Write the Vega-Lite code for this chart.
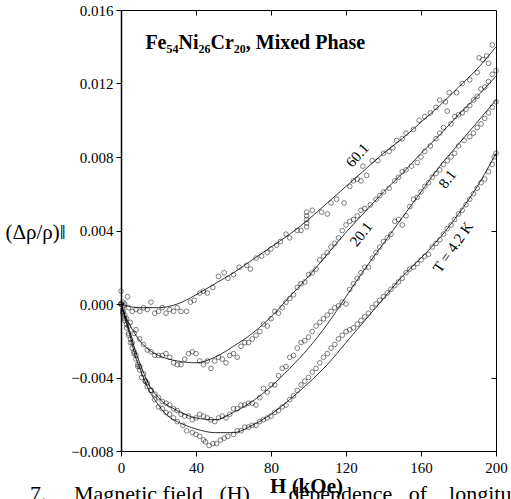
{
  "$schema": "https://vega.github.io/schema/vega-lite/v6.json",
  "width": 375,
  "height": 441,
  "autosize": {"type": "none"},
  "padding": {"left": 121, "top": 10, "right": 15, "bottom": 48},
  "background": "white",
  "title": {"text": "7.\u00a0\u00a0\u00a0\u00a0\u00a0Magnetic\u00a0field\u00a0\u00a0\u00a0(H)\u00a0\u00a0\u00a0\u00a0\u00a0\u00a0\u00a0dependence\u00a0\u00a0\u00a0of\u00a0\u00a0\u00a0\u00a0longitudinal", "orient": "bottom", "anchor": "start", "frame": "group", "dx": -91, "offset": -12, "baseline": "top", "font": "Liberation Serif", "fontSize": 22, "fontWeight": "normal", "color": "black"},
  "config": {
    "view": {"stroke": "black", "strokeWidth": 1},
    "font": "Liberation Serif",
    "style": {"guide-label": {"font": "Liberation Serif", "fill": "black"}, "guide-title": {"font": "Liberation Serif", "fill": "black"}, "group-title": {"font": "Liberation Serif"}},
    "axis": {"labelFont": "Liberation Serif", "titleFont": "Liberation Serif", "labelColor": "black", "titleColor": "black", "domainColor": "black", "tickColor": "black", "grid": false}
  },
  "datasets": {
    "fit": [
      {"H":0,"y":0,"T":"60.1"},{"H":5,"y":-0.00015,"T":"60.1"},{"H":10,"y":-0.0002,"T":"60.1"},{"H":20,"y":-0.0002,"T":"60.1"},{"H":30,"y":0.0,"T":"60.1"},{"H":40,"y":0.0005,"T":"60.1"},{"H":50,"y":0.0011,"T":"60.1"},{"H":60,"y":0.0017,"T":"60.1"},{"H":70,"y":0.0024,"T":"60.1"},{"H":80,"y":0.0031,"T":"60.1"},{"H":90,"y":0.0038,"T":"60.1"},{"H":100,"y":0.0046,"T":"60.1"},{"H":110,"y":0.0055,"T":"60.1"},{"H":120,"y":0.0064,"T":"60.1"},{"H":130,"y":0.0073,"T":"60.1"},{"H":140,"y":0.0082,"T":"60.1"},{"H":150,"y":0.0090,"T":"60.1"},{"H":160,"y":0.0099,"T":"60.1"},{"H":170,"y":0.0108,"T":"60.1"},{"H":180,"y":0.0118,"T":"60.1"},{"H":190,"y":0.0128,"T":"60.1"},{"H":200,"y":0.0140,"T":"60.1"},
      {"H":0,"y":0,"T":"20.1"},{"H":2.5,"y":-0.0007,"T":"20.1"},{"H":5,"y":-0.0012,"T":"20.1"},{"H":10,"y":-0.0020,"T":"20.1"},{"H":15,"y":-0.0025,"T":"20.1"},{"H":20,"y":-0.0028,"T":"20.1"},{"H":30,"y":-0.0031,"T":"20.1"},{"H":40,"y":-0.0032,"T":"20.1"},{"H":50,"y":-0.0029,"T":"20.1"},{"H":60,"y":-0.0023,"T":"20.1"},{"H":70,"y":-0.0016,"T":"20.1"},{"H":80,"y":-0.0007,"T":"20.1"},{"H":90,"y":0.0004,"T":"20.1"},{"H":100,"y":0.0015,"T":"20.1"},{"H":110,"y":0.0027,"T":"20.1"},{"H":120,"y":0.0039,"T":"20.1"},{"H":130,"y":0.0050,"T":"20.1"},{"H":140,"y":0.0061,"T":"20.1"},{"H":150,"y":0.0071,"T":"20.1"},{"H":160,"y":0.0082,"T":"20.1"},{"H":170,"y":0.0092,"T":"20.1"},{"H":180,"y":0.0103,"T":"20.1"},{"H":190,"y":0.0113,"T":"20.1"},{"H":200,"y":0.0124,"T":"20.1"},
      {"H":0,"y":0,"T":"8.1"},{"H":2.5,"y":-0.0008,"T":"8.1"},{"H":5,"y":-0.0016,"T":"8.1"},{"H":7.5,"y":-0.0025,"T":"8.1"},{"H":10,"y":-0.0032,"T":"8.1"},{"H":15,"y":-0.0044,"T":"8.1"},{"H":20,"y":-0.0051,"T":"8.1"},{"H":30,"y":-0.0058,"T":"8.1"},{"H":40,"y":-0.0062,"T":"8.1"},{"H":50,"y":-0.0063,"T":"8.1"},{"H":60,"y":-0.0059,"T":"8.1"},{"H":70,"y":-0.0053,"T":"8.1"},{"H":80,"y":-0.0045,"T":"8.1"},{"H":90,"y":-0.0035,"T":"8.1"},{"H":100,"y":-0.0024,"T":"8.1"},{"H":110,"y":-0.0011,"T":"8.1"},{"H":120,"y":0.0004,"T":"8.1"},{"H":130,"y":0.0019,"T":"8.1"},{"H":140,"y":0.0033,"T":"8.1"},{"H":150,"y":0.0047,"T":"8.1"},{"H":160,"y":0.0061,"T":"8.1"},{"H":170,"y":0.0075,"T":"8.1"},{"H":180,"y":0.0087,"T":"8.1"},{"H":190,"y":0.0099,"T":"8.1"},{"H":200,"y":0.0111,"T":"8.1"},
      {"H":0,"y":0,"T":"4.2"},{"H":2.5,"y":-0.0009,"T":"4.2"},{"H":5,"y":-0.0018,"T":"4.2"},{"H":7.5,"y":-0.0028,"T":"4.2"},{"H":10,"y":-0.0035,"T":"4.2"},{"H":15,"y":-0.0047,"T":"4.2"},{"H":20,"y":-0.0055,"T":"4.2"},{"H":25,"y":-0.0061,"T":"4.2"},{"H":30,"y":-0.0064,"T":"4.2"},{"H":40,"y":-0.0068,"T":"4.2"},{"H":50,"y":-0.0070,"T":"4.2"},{"H":60,"y":-0.0070,"T":"4.2"},{"H":70,"y":-0.0066,"T":"4.2"},{"H":80,"y":-0.0060,"T":"4.2"},{"H":90,"y":-0.0052,"T":"4.2"},{"H":100,"y":-0.0043,"T":"4.2"},{"H":110,"y":-0.0033,"T":"4.2"},{"H":120,"y":-0.0021,"T":"4.2"},{"H":130,"y":-0.0009,"T":"4.2"},{"H":140,"y":0.0003,"T":"4.2"},{"H":150,"y":0.0015,"T":"4.2"},{"H":160,"y":0.0025,"T":"4.2"},{"H":170,"y":0.0036,"T":"4.2"},{"H":180,"y":0.0049,"T":"4.2"},{"H":190,"y":0.0064,"T":"4.2"},{"H":200,"y":0.0082,"T":"4.2"}
    ],
    "pts": [
      {"H":0,"y":0.0007,"T":"60.1"},{"H":1,"y":0.0001,"T":"60.1"},{"H":1.5,"y":-0.0001,"T":"60.1"},{"H":2,"y":0.0,"T":"60.1"},{"H":3.5,"y":0.0004,"T":"60.1"},{"H":4,"y":-0.0002,"T":"60.1"},{"H":6,"y":-0.0004,"T":"60.1"},{"H":8,"y":-0.0003,"T":"60.1"},{"H":10,"y":-0.0004,"T":"60.1"},{"H":12,"y":-0.0002,"T":"60.1"},{"H":14,"y":-0.0003,"T":"60.1"},{"H":16,"y":0.0001,"T":"60.1"},{"H":18,"y":-0.0005,"T":"60.1"},{"H":20,"y":-0.0004,"T":"60.1"},{"H":22,"y":-0.0002,"T":"60.1"},{"H":24,"y":-0.0005,"T":"60.1"},{"H":26,"y":-0.0003,"T":"60.1"},{"H":28,"y":-0.0004,"T":"60.1"},{"H":30,"y":-0.0002,"T":"60.1"},{"H":32,"y":-0.0004,"T":"60.1"},{"H":35,"y":-0.0004,"T":"60.1"},{"H":37,"y":0.0001,"T":"60.1"},{"H":39,"y":0.0002,"T":"60.1"},{"H":42,"y":0.0006,"T":"60.1"},{"H":44,"y":0.0007,"T":"60.1"},{"H":46,"y":0.0006,"T":"60.1"},{"H":49,"y":0.0009,"T":"60.1"},{"H":52,"y":0.0015,"T":"60.1"},{"H":55,"y":0.0017,"T":"60.1"},{"H":57,"y":0.0014,"T":"60.1"},{"H":60,"y":0.0016,"T":"60.1"},{"H":63,"y":0.0020,"T":"60.1"},{"H":67,"y":0.0021,"T":"60.1"},{"H":69,"y":0.0019,"T":"60.1"},{"H":72,"y":0.0025,"T":"60.1"},{"H":75,"y":0.0026,"T":"60.1"},{"H":78,"y":0.0028,"T":"60.1"},{"H":80,"y":0.0030,"T":"60.1"},{"H":83,"y":0.0032,"T":"60.1"},{"H":85,"y":0.0034,"T":"60.1"},{"H":88,"y":0.0038,"T":"60.1"},{"H":90,"y":0.0036,"T":"60.1"},{"H":94,"y":0.0040,"T":"60.1"},{"H":96,"y":0.0040,"T":"60.1"},{"H":99,"y":0.0042,"T":"60.1"},{"H":99,"y":0.0044,"T":"60.1"},{"H":99,"y":0.0046,"T":"60.1"},{"H":99,"y":0.0048,"T":"60.1"},{"H":99,"y":0.0050,"T":"60.1"},{"H":102,"y":0.0051,"T":"60.1"},{"H":107,"y":0.0050,"T":"60.1"},{"H":110,"y":0.0049,"T":"60.1"},{"H":112,"y":0.0055,"T":"60.1"},{"H":115,"y":0.0057,"T":"60.1"},{"H":119,"y":0.0055,"T":"60.1"},{"H":122,"y":0.0064,"T":"60.1"},{"H":124,"y":0.0067,"T":"60.1"},{"H":126,"y":0.0068,"T":"60.1"},{"H":128,"y":0.0067,"T":"60.1"},{"H":129,"y":0.0075,"T":"60.1"},{"H":131,"y":0.0070,"T":"60.1"},{"H":134,"y":0.0078,"T":"60.1"},{"H":137,"y":0.0078,"T":"60.1"},{"H":140,"y":0.0082,"T":"60.1"},{"H":143,"y":0.0083,"T":"60.1"},{"H":145,"y":0.0085,"T":"60.1"},{"H":147,"y":0.0089,"T":"60.1"},{"H":150,"y":0.0090,"T":"60.1"},{"H":152,"y":0.0093,"T":"60.1"},{"H":156,"y":0.0095,"T":"60.1"},{"H":159,"y":0.0100,"T":"60.1"},{"H":162,"y":0.0102,"T":"60.1"},{"H":165,"y":0.0104,"T":"60.1"},{"H":168,"y":0.0107,"T":"60.1"},{"H":170,"y":0.0111,"T":"60.1"},{"H":173,"y":0.0110,"T":"60.1"},{"H":175,"y":0.0115,"T":"60.1"},{"H":179,"y":0.0115,"T":"60.1"},{"H":182,"y":0.0120,"T":"60.1"},{"H":186,"y":0.0122,"T":"60.1"},{"H":190,"y":0.0126,"T":"60.1"},{"H":191,"y":0.0134,"T":"60.1"},{"H":193,"y":0.0133,"T":"60.1"},{"H":195,"y":0.0135,"T":"60.1"},{"H":196,"y":0.0131,"T":"60.1"},{"H":198,"y":0.0141,"T":"60.1"},
      {"H":0,"y":0.0,"T":"20.1"},{"H":1,"y":-0.0003,"T":"20.1"},{"H":2,"y":-0.0006,"T":"20.1"},{"H":3,"y":-0.0008,"T":"20.1"},{"H":4,"y":-0.0012,"T":"20.1"},{"H":5,"y":-0.0010,"T":"20.1"},{"H":7,"y":-0.0016,"T":"20.1"},{"H":8,"y":-0.0014,"T":"20.1"},{"H":10,"y":-0.0019,"T":"20.1"},{"H":12,"y":-0.0022,"T":"20.1"},{"H":14,"y":-0.0025,"T":"20.1"},{"H":16,"y":-0.0026,"T":"20.1"},{"H":18,"y":-0.0028,"T":"20.1"},{"H":20,"y":-0.0028,"T":"20.1"},{"H":22,"y":-0.0028,"T":"20.1"},{"H":24,"y":-0.0027,"T":"20.1"},{"H":26,"y":-0.0029,"T":"20.1"},{"H":28,"y":-0.0032,"T":"20.1"},{"H":30,"y":-0.0033,"T":"20.1"},{"H":32,"y":-0.0033,"T":"20.1"},{"H":34,"y":-0.0030,"T":"20.1"},{"H":36,"y":-0.0027,"T":"20.1"},{"H":38,"y":-0.0026,"T":"20.1"},{"H":40,"y":-0.0027,"T":"20.1"},{"H":42,"y":-0.0031,"T":"20.1"},{"H":44,"y":-0.0033,"T":"20.1"},{"H":46,"y":-0.0031,"T":"20.1"},{"H":48,"y":-0.0035,"T":"20.1"},{"H":50,"y":-0.0031,"T":"20.1"},{"H":52,"y":-0.0029,"T":"20.1"},{"H":54,"y":-0.0030,"T":"20.1"},{"H":56,"y":-0.0032,"T":"20.1"},{"H":58,"y":-0.0028,"T":"20.1"},{"H":60,"y":-0.0027,"T":"20.1"},{"H":62,"y":-0.0029,"T":"20.1"},{"H":64,"y":-0.0023,"T":"20.1"},{"H":66,"y":-0.0021,"T":"20.1"},{"H":68,"y":-0.0021,"T":"20.1"},{"H":70,"y":-0.0019,"T":"20.1"},{"H":72,"y":-0.0017,"T":"20.1"},{"H":74,"y":-0.0015,"T":"20.1"},{"H":76,"y":-0.0011,"T":"20.1"},{"H":78,"y":-0.0012,"T":"20.1"},{"H":80,"y":-0.0008,"T":"20.1"},{"H":82,"y":-0.0004,"T":"20.1"},{"H":84,"y":-0.0005,"T":"20.1"},{"H":86,"y":-0.0002,"T":"20.1"},{"H":88,"y":0.0001,"T":"20.1"},{"H":90,"y":0.0003,"T":"20.1"},{"H":92,"y":0.0005,"T":"20.1"},{"H":94,"y":0.0009,"T":"20.1"},{"H":96,"y":0.0011,"T":"20.1"},{"H":98,"y":0.0012,"T":"20.1"},{"H":100,"y":0.0016,"T":"20.1"},{"H":102,"y":0.0017,"T":"20.1"},{"H":104,"y":0.0019,"T":"20.1"},{"H":106,"y":0.0024,"T":"20.1"},{"H":108,"y":0.0026,"T":"20.1"},{"H":110,"y":0.0028,"T":"20.1"},{"H":112,"y":0.0031,"T":"20.1"},{"H":114,"y":0.0033,"T":"20.1"},{"H":116,"y":0.0036,"T":"20.1"},{"H":118,"y":0.0040,"T":"20.1"},{"H":120,"y":0.0043,"T":"20.1"},{"H":122,"y":0.0045,"T":"20.1"},{"H":124,"y":0.0046,"T":"20.1"},{"H":126,"y":0.0048,"T":"20.1"},{"H":128,"y":0.0051,"T":"20.1"},{"H":130,"y":0.0052,"T":"20.1"},{"H":133,"y":0.0054,"T":"20.1"},{"H":136,"y":0.0057,"T":"20.1"},{"H":138,"y":0.0059,"T":"20.1"},{"H":140,"y":0.0061,"T":"20.1"},{"H":143,"y":0.0063,"T":"20.1"},{"H":146,"y":0.0067,"T":"20.1"},{"H":148,"y":0.0069,"T":"20.1"},{"H":150,"y":0.0072,"T":"20.1"},{"H":152,"y":0.0073,"T":"20.1"},{"H":155,"y":0.0075,"T":"20.1"},{"H":158,"y":0.0077,"T":"20.1"},{"H":160,"y":0.0080,"T":"20.1"},{"H":162,"y":0.0083,"T":"20.1"},{"H":165,"y":0.0086,"T":"20.1"},{"H":168,"y":0.0090,"T":"20.1"},{"H":170,"y":0.0093,"T":"20.1"},{"H":172,"y":0.0096,"T":"20.1"},{"H":174,"y":0.0105,"T":"20.1"},{"H":176,"y":0.0098,"T":"20.1"},{"H":178,"y":0.0102,"T":"20.1"},{"H":180,"y":0.0103,"T":"20.1"},{"H":182,"y":0.0104,"T":"20.1"},{"H":184,"y":0.0106,"T":"20.1"},{"H":186,"y":0.0108,"T":"20.1"},{"H":188,"y":0.0111,"T":"20.1"},{"H":190,"y":0.0113,"T":"20.1"},{"H":192,"y":0.0117,"T":"20.1"},{"H":194,"y":0.0118,"T":"20.1"},{"H":196,"y":0.0121,"T":"20.1"},{"H":198,"y":0.0125,"T":"20.1"},{"H":200,"y":0.0127,"T":"20.1"},
      {"H":0,"y":0.0,"T":"8.1"},{"H":1,"y":-0.0004,"T":"8.1"},{"H":2,"y":-0.0008,"T":"8.1"},{"H":3,"y":-0.0011,"T":"8.1"},{"H":4,"y":-0.0016,"T":"8.1"},{"H":5,"y":-0.0019,"T":"8.1"},{"H":6,"y":-0.0021,"T":"8.1"},{"H":7,"y":-0.0026,"T":"8.1"},{"H":8,"y":-0.0028,"T":"8.1"},{"H":9,"y":-0.0033,"T":"8.1"},{"H":10,"y":-0.0034,"T":"8.1"},{"H":12,"y":-0.0038,"T":"8.1"},{"H":13,"y":-0.0042,"T":"8.1"},{"H":14,"y":-0.0043,"T":"8.1"},{"H":16,"y":-0.0047,"T":"8.1"},{"H":18,"y":-0.0049,"T":"8.1"},{"H":20,"y":-0.0051,"T":"8.1"},{"H":22,"y":-0.0053,"T":"8.1"},{"H":24,"y":-0.0054,"T":"8.1"},{"H":26,"y":-0.0055,"T":"8.1"},{"H":28,"y":-0.0057,"T":"8.1"},{"H":30,"y":-0.0058,"T":"8.1"},{"H":32,"y":-0.0060,"T":"8.1"},{"H":34,"y":-0.0061,"T":"8.1"},{"H":36,"y":-0.0061,"T":"8.1"},{"H":38,"y":-0.0063,"T":"8.1"},{"H":40,"y":-0.0062,"T":"8.1"},{"H":42,"y":-0.0060,"T":"8.1"},{"H":44,"y":-0.0061,"T":"8.1"},{"H":46,"y":-0.0062,"T":"8.1"},{"H":48,"y":-0.0063,"T":"8.1"},{"H":50,"y":-0.0064,"T":"8.1"},{"H":52,"y":-0.0062,"T":"8.1"},{"H":54,"y":-0.0061,"T":"8.1"},{"H":56,"y":-0.0062,"T":"8.1"},{"H":58,"y":-0.0060,"T":"8.1"},{"H":60,"y":-0.0057,"T":"8.1"},{"H":62,"y":-0.0057,"T":"8.1"},{"H":64,"y":-0.0055,"T":"8.1"},{"H":66,"y":-0.0055,"T":"8.1"},{"H":68,"y":-0.0054,"T":"8.1"},{"H":70,"y":-0.0054,"T":"8.1"},{"H":72,"y":-0.0055,"T":"8.1"},{"H":74,"y":-0.0051,"T":"8.1"},{"H":76,"y":-0.0046,"T":"8.1"},{"H":78,"y":-0.0048,"T":"8.1"},{"H":80,"y":-0.0044,"T":"8.1"},{"H":82,"y":-0.0044,"T":"8.1"},{"H":84,"y":-0.0039,"T":"8.1"},{"H":86,"y":-0.0035,"T":"8.1"},{"H":88,"y":-0.0034,"T":"8.1"},{"H":90,"y":-0.0029,"T":"8.1"},{"H":92,"y":-0.0028,"T":"8.1"},{"H":94,"y":-0.0024,"T":"8.1"},{"H":96,"y":-0.0021,"T":"8.1"},{"H":98,"y":-0.0020,"T":"8.1"},{"H":100,"y":-0.0018,"T":"8.1"},{"H":102,"y":-0.0015,"T":"8.1"},{"H":104,"y":-0.0012,"T":"8.1"},{"H":106,"y":-0.0010,"T":"8.1"},{"H":108,"y":-0.0008,"T":"8.1"},{"H":110,"y":-0.0006,"T":"8.1"},{"H":112,"y":-0.0004,"T":"8.1"},{"H":114,"y":-0.0002,"T":"8.1"},{"H":116,"y":-0.0001,"T":"8.1"},{"H":118,"y":0.0001,"T":"8.1"},{"H":120,"y":0.0000,"T":"8.1"},{"H":122,"y":0.0008,"T":"8.1"},{"H":124,"y":0.0011,"T":"8.1"},{"H":126,"y":0.0014,"T":"8.1"},{"H":128,"y":0.0017,"T":"8.1"},{"H":130,"y":0.0020,"T":"8.1"},{"H":132,"y":0.0020,"T":"8.1"},{"H":134,"y":0.0025,"T":"8.1"},{"H":136,"y":0.0028,"T":"8.1"},{"H":138,"y":0.0031,"T":"8.1"},{"H":140,"y":0.0034,"T":"8.1"},{"H":142,"y":0.0036,"T":"8.1"},{"H":144,"y":0.0038,"T":"8.1"},{"H":146,"y":0.0045,"T":"8.1"},{"H":148,"y":0.0046,"T":"8.1"},{"H":150,"y":0.0043,"T":"8.1"},{"H":152,"y":0.0048,"T":"8.1"},{"H":154,"y":0.0053,"T":"8.1"},{"H":156,"y":0.0057,"T":"8.1"},{"H":158,"y":0.0058,"T":"8.1"},{"H":160,"y":0.0061,"T":"8.1"},{"H":162,"y":0.0064,"T":"8.1"},{"H":164,"y":0.0066,"T":"8.1"},{"H":166,"y":0.0069,"T":"8.1"},{"H":168,"y":0.0071,"T":"8.1"},{"H":170,"y":0.0073,"T":"8.1"},{"H":172,"y":0.0076,"T":"8.1"},{"H":174,"y":0.0078,"T":"8.1"},{"H":176,"y":0.0080,"T":"8.1"},{"H":178,"y":0.0082,"T":"8.1"},{"H":180,"y":0.0086,"T":"8.1"},{"H":183,"y":0.0089,"T":"8.1"},{"H":186,"y":0.0091,"T":"8.1"},{"H":188,"y":0.0093,"T":"8.1"},{"H":190,"y":0.0096,"T":"8.1"},{"H":192,"y":0.0098,"T":"8.1"},{"H":194,"y":0.0101,"T":"8.1"},{"H":196,"y":0.0104,"T":"8.1"},{"H":198,"y":0.0107,"T":"8.1"},{"H":200,"y":0.0110,"T":"8.1"},
      {"H":0,"y":0.0,"T":"4.2"},{"H":1,"y":-0.0005,"T":"4.2"},{"H":2,"y":-0.0009,"T":"4.2"},{"H":3,"y":-0.0013,"T":"4.2"},{"H":4,"y":-0.0017,"T":"4.2"},{"H":5,"y":-0.0021,"T":"4.2"},{"H":6,"y":-0.0024,"T":"4.2"},{"H":7,"y":-0.0027,"T":"4.2"},{"H":8,"y":-0.0030,"T":"4.2"},{"H":9,"y":-0.0034,"T":"4.2"},{"H":10,"y":-0.0036,"T":"4.2"},{"H":11,"y":-0.0040,"T":"4.2"},{"H":13,"y":-0.0042,"T":"4.2"},{"H":14,"y":-0.0045,"T":"4.2"},{"H":16,"y":-0.0047,"T":"4.2"},{"H":18,"y":-0.0052,"T":"4.2"},{"H":20,"y":-0.0056,"T":"4.2"},{"H":22,"y":-0.0057,"T":"4.2"},{"H":24,"y":-0.0059,"T":"4.2"},{"H":26,"y":-0.0060,"T":"4.2"},{"H":28,"y":-0.0062,"T":"4.2"},{"H":30,"y":-0.0064,"T":"4.2"},{"H":33,"y":-0.0066,"T":"4.2"},{"H":35,"y":-0.0069,"T":"4.2"},{"H":38,"y":-0.0070,"T":"4.2"},{"H":40,"y":-0.0071,"T":"4.2"},{"H":42,"y":-0.0072,"T":"4.2"},{"H":44,"y":-0.0074,"T":"4.2"},{"H":45,"y":-0.0075,"T":"4.2"},{"H":47,"y":-0.0077,"T":"4.2"},{"H":49,"y":-0.0076,"T":"4.2"},{"H":51,"y":-0.0076,"T":"4.2"},{"H":53,"y":-0.0074,"T":"4.2"},{"H":55,"y":-0.0073,"T":"4.2"},{"H":57,"y":-0.0072,"T":"4.2"},{"H":60,"y":-0.0071,"T":"4.2"},{"H":62,"y":-0.0069,"T":"4.2"},{"H":64,"y":-0.0069,"T":"4.2"},{"H":66,"y":-0.0067,"T":"4.2"},{"H":68,"y":-0.0067,"T":"4.2"},{"H":70,"y":-0.0066,"T":"4.2"},{"H":72,"y":-0.0066,"T":"4.2"},{"H":74,"y":-0.0064,"T":"4.2"},{"H":76,"y":-0.0063,"T":"4.2"},{"H":78,"y":-0.0062,"T":"4.2"},{"H":80,"y":-0.0061,"T":"4.2"},{"H":82,"y":-0.0059,"T":"4.2"},{"H":84,"y":-0.0058,"T":"4.2"},{"H":86,"y":-0.0056,"T":"4.2"},{"H":88,"y":-0.0055,"T":"4.2"},{"H":90,"y":-0.0052,"T":"4.2"},{"H":92,"y":-0.0050,"T":"4.2"},{"H":94,"y":-0.0047,"T":"4.2"},{"H":96,"y":-0.0044,"T":"4.2"},{"H":98,"y":-0.0042,"T":"4.2"},{"H":100,"y":-0.0040,"T":"4.2"},{"H":102,"y":-0.0037,"T":"4.2"},{"H":104,"y":-0.0035,"T":"4.2"},{"H":106,"y":-0.0032,"T":"4.2"},{"H":108,"y":-0.0029,"T":"4.2"},{"H":110,"y":-0.0027,"T":"4.2"},{"H":112,"y":-0.0024,"T":"4.2"},{"H":114,"y":-0.0022,"T":"4.2"},{"H":116,"y":-0.0019,"T":"4.2"},{"H":118,"y":-0.0017,"T":"4.2"},{"H":120,"y":-0.0015,"T":"4.2"},{"H":122,"y":-0.0014,"T":"4.2"},{"H":124,"y":-0.0013,"T":"4.2"},{"H":126,"y":-0.0011,"T":"4.2"},{"H":128,"y":-0.0009,"T":"4.2"},{"H":130,"y":-0.0007,"T":"4.2"},{"H":132,"y":-0.0005,"T":"4.2"},{"H":134,"y":-0.0002,"T":"4.2"},{"H":136,"y":0.0000,"T":"4.2"},{"H":138,"y":0.0002,"T":"4.2"},{"H":140,"y":0.0004,"T":"4.2"},{"H":142,"y":0.0006,"T":"4.2"},{"H":144,"y":0.0008,"T":"4.2"},{"H":146,"y":0.0010,"T":"4.2"},{"H":148,"y":0.0012,"T":"4.2"},{"H":150,"y":0.0014,"T":"4.2"},{"H":152,"y":0.0017,"T":"4.2"},{"H":154,"y":0.0019,"T":"4.2"},{"H":156,"y":0.0020,"T":"4.2"},{"H":158,"y":0.0022,"T":"4.2"},{"H":160,"y":0.0024,"T":"4.2"},{"H":162,"y":0.0026,"T":"4.2"},{"H":164,"y":0.0027,"T":"4.2"},{"H":166,"y":0.0031,"T":"4.2"},{"H":168,"y":0.0033,"T":"4.2"},{"H":170,"y":0.0035,"T":"4.2"},{"H":172,"y":0.0038,"T":"4.2"},{"H":174,"y":0.0041,"T":"4.2"},{"H":176,"y":0.0043,"T":"4.2"},{"H":178,"y":0.0046,"T":"4.2"},{"H":180,"y":0.0049,"T":"4.2"},{"H":182,"y":0.0051,"T":"4.2"},{"H":184,"y":0.0054,"T":"4.2"},{"H":186,"y":0.0057,"T":"4.2"},{"H":188,"y":0.0060,"T":"4.2"},{"H":190,"y":0.0063,"T":"4.2"},{"H":192,"y":0.0066,"T":"4.2"},{"H":194,"y":0.0068,"T":"4.2"},{"H":196,"y":0.0072,"T":"4.2"},{"H":198,"y":0.0076,"T":"4.2"},{"H":199,"y":0.0080,"T":"4.2"},{"H":200,"y":0.0082,"T":"4.2"}
    ],
    "labels": [
      {"H":126,"y":0.0081,"text":"60.1","angle":-48},
      {"H":128,"y":0.0038,"text":"20.1","angle":-52},
      {"H":174,"y":0.0068,"text":"8.1","angle":-52},
      {"H":177,"y":0.0031,"text":"T = 4.2 K","angle":-55}
    ],
    "title": [
      {"H":13,"y":0.0142,"text":"Fe₅₄Ni₂₆Cr₂₀, Mixed Phase"}
    ]
  },
  "resolve": {"axis": {"x": "independent", "y": "independent"}},
  "layer": [
    {
      "mark": {"type": "rule", "color": "black", "strokeWidth": 0.9},
      "encoding": {"y": {"datum": 0, "type": "quantitative", "axis": null}}
    },
    {
      "data": {"name": "fit"},
      "mark": {"type": "line", "color": "black", "strokeWidth": 0.8, "interpolate": "monotone"},
      "encoding": {
        "x": {"field": "H", "type": "quantitative", "scale": {"domain": [0, 200], "nice": false, "zero": false},
              "axis": {"values": [0, 40, 80, 120, 160, 200], "title": "H (kOe)", "titleFont": "Liberation Serif", "titleFontSize": 21, "titleFontWeight": "bold", "titlePadding": 0, "titleX": 185, "labelFont": "Liberation Serif", "labelFontSize": 15, "labelPadding": 4, "tickSize": 5, "domainWidth": 1.2, "labelFlush": false}},
        "y": {"field": "y", "type": "quantitative", "scale": {"domain": [-0.008, 0.016], "nice": false, "zero": false},
              "axis": {"values": [-0.008, -0.004, 0, 0.004, 0.008, 0.012, 0.016], "format": ".3f", "labelFont": "Liberation Serif", "labelFontSize": 15, "labelPadding": 3, "tickSize": 5, "domainWidth": 1.5, "labelFlush": false,
                       "title": "(Δρ/ρ)‖", "titleFont": "Liberation Serif", "titleAngle": 0, "titleFontSize": 21, "titleFontWeight": "normal", "titleX": -116, "titleY": 222, "titleAlign": "left", "titleBaseline": "middle"}},
        "detail": {"field": "T"}
      }
    },
    {
      "data": {"name": "pts"},
      "mark": {"type": "point", "shape": "circle", "filled": false, "color": "black", "size": 22, "strokeWidth": 0.7},
      "encoding": {
        "x": {"field": "H", "type": "quantitative", "axis": null},
        "y": {"field": "y", "type": "quantitative", "axis": null}
      }
    },
    {
      "data": {"name": "labels"},
      "mark": {"type": "text", "font": "Liberation Serif", "fontSize": 15, "color": "black", "align": "center", "baseline": "middle"},
      "encoding": {
        "x": {"field": "H", "type": "quantitative", "axis": null},
        "y": {"field": "y", "type": "quantitative", "axis": null},
        "text": {"field": "text"},
        "angle": {"field": "angle", "type": "quantitative", "scale": null}
      }
    },
    {
      "data": {"name": "title"},
      "mark": {"type": "text", "font": "Liberation Serif", "fontSize": 20, "fontWeight": "bold", "color": "black", "align": "left", "baseline": "middle"},
      "encoding": {
        "x": {"field": "H", "type": "quantitative", "axis": {"orient": "top", "values": [40, 80, 120, 160], "labels": false, "title": null, "domain": false, "tickSize": 5, "offset": -5}},
        "y": {"field": "y", "type": "quantitative", "axis": {"orient": "right", "values": [-0.004, 0.004], "labels": false, "title": null, "domain": false, "tickSize": 5, "offset": -5}},
        "text": {"field": "text"}
      }
    }
  ]
}
